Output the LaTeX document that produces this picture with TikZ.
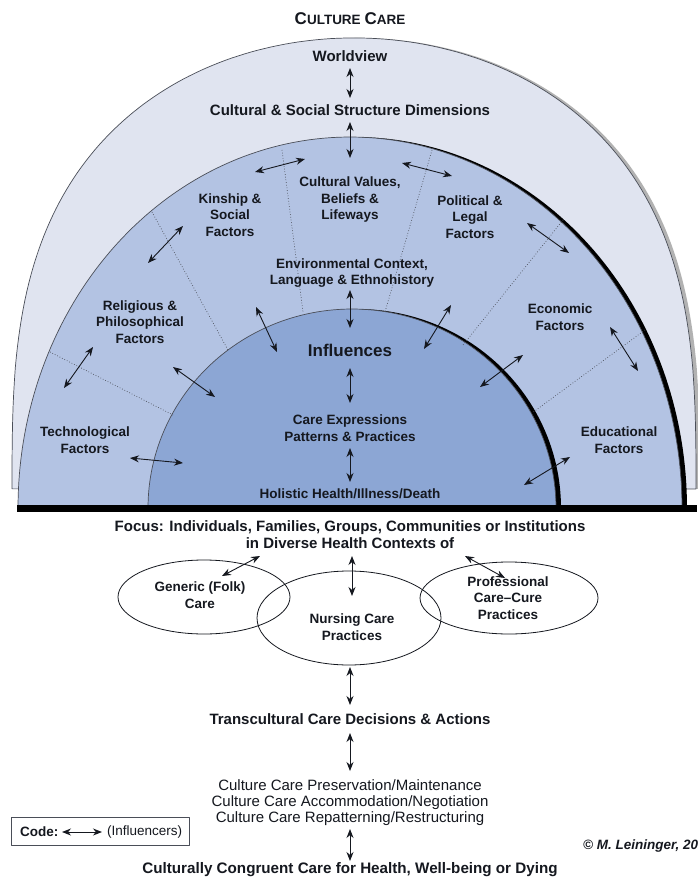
\documentclass[tikz,border=0pt]{standalone}
\usepackage{fontspec}
\setmainfont{Liberation Sans}
\usetikzlibrary{arrows.meta,shapes.geometric}
\definecolor{outerc}{HTML}{E0E4F0}
\definecolor{midc}{HTML}{B3C3E3}
\definecolor{innc}{HTML}{8CA6D4}
\definecolor{ink}{HTML}{15181F}
\definecolor{edge}{HTML}{4A4E58}
\begin{document}
\begin{tikzpicture}[x=1pt,y=-1pt,line join=round,
  lab/.style={align=center,inner sep=0pt,text=ink,font=\fontsize{13.5}{16.5}\selectfont\bfseries},
  big/.style={align=center,inner sep=0pt,text=ink,font=\fontsize{15}{17}\selectfont\bfseries},
  reg/.style={align=center,inner sep=0pt,text=ink,font=\fontsize{15}{16}\selectfont},
  arr/.style={{Stealth[length=9pt,width=7pt]}-{Stealth[length=9pt,width=7pt]},line width=0.9pt,draw=ink},
  sep/.style={dotted,line width=0.7pt,draw=edge},
  oval/.style={ellipse,draw=ink,line width=0.8pt,inner sep=0pt}]
\useasboundingbox (0,0) rectangle (697,877);
\fill[white] (0,0) rectangle (697,877);
% outer dome with shadow: (x/a)^2 + (y/b)^3 = 1
\fill[gray!60] plot[domain=0:180,samples=160] ({358+342*cos(\x)},{490-452*(abs(sin(\x))+0.0001)^0.6667}) -- cycle;
\filldraw[fill=outerc,draw=edge,line width=0.7pt] plot[domain=0:180,samples=160] ({354+342*cos(\x)},{490-452*(abs(sin(\x))+0.0001)^0.6667}) -- cycle;
% middle dome with shadow
\fill[black] plot[domain=0:180,samples=140] ({355+332*cos(\x)},{508-371*sin(\x)}) -- cycle;
\filldraw[fill=midc,draw=edge,line width=0.7pt] plot[domain=0:180,samples=140] ({350+332*cos(\x)},{508-371*sin(\x)}) -- cycle;
% inner dome with shadow
\fill[black] plot[domain=0:180,samples=120] ({357+204*cos(\x)},{508-199*sin(\x)}) -- cycle;
\filldraw[fill=innc,draw=edge,line width=0.7pt] plot[domain=0:180,samples=120] ({352+204*cos(\x)},{508-199*sin(\x)}) -- cycle;
% base bar
\fill[black] (17,505) rectangle (697,512);
% dotted separators
\draw[sep] (282,150) -- (303,312);
\draw[sep] (152,212) -- (228,350);
\draw[sep] (50,352) -- (173,415);
\draw[sep] (432,150) -- (385,312);
\draw[sep] (563,220) -- (463,345);
\draw[sep] (645,330) -- (532,413);
% texts
\node[align=center,inner sep=0pt,text=ink,font=\bfseries] (title) at (350,19) {\fontsize{17}{17}\selectfont C\fontsize{13.5}{13.5}\selectfont ULTURE \fontsize{17}{17}\selectfont C\fontsize{13.5}{13.5}\selectfont ARE};
\node[big] (wv) at (350,56) {Worldview};
\node[big] (csd) at (350,110) {Cultural \& Social Structure Dimensions};
\node[lab] (kin) at (230,215) {Kinship \&\\Social\\Factors};
\node[lab] (cvb) at (350,200) {Cultural Values,\\Beliefs \&\\Lifeways};
\node[lab] (pol) at (470,217) {Political \&\\Legal\\Factors};
\node[lab] (env) at (352,273) {Environmental Context,\\Language \& Ethnohistory};
\node[lab] (rel) at (140,322) {Religious \&\\Philosophical\\Factors};
\node[lab] (eco) at (560,317) {Economic\\Factors};
\node[lab] (tec) at (85,440) {Technological\\Factors};
\node[lab] (edu) at (619,440) {Educational\\Factors};
\node[align=center,inner sep=0pt,text=ink,font=\fontsize{17}{19}\selectfont\bfseries] (infl) at (350,350) {Influences};
\node[lab] (care) at (350,428) {Care Expressions\\Patterns \& Practices};
\node[lab] (hol) at (350,494) {Holistic Health/Illness/Death};
\node[big] (focus) at (350,535) {Focus: Individuals, Families, Groups, Communities or Institutions\\in Diverse Health Contexts of};
% ovals
\node[oval,minimum width=172pt,minimum height=74pt] (gen) at (204,597) {};
\node[oval,minimum width=184pt,minimum height=94pt] (nur) at (349,618) {};
\node[oval,minimum width=178pt,minimum height=72pt] (pro) at (509,598) {};
\node[lab] (gent) at (200,595) {Generic (Folk)\\Care};
\node[lab] (nurt) at (352,627) {Nursing Care\\Practices};
\node[lab] (prot) at (508,598) {Professional\\Care--Cure\\Practices};
\node[big] (tcd) at (350,719) {Transcultural Care Decisions \& Actions};
\node[reg] (ccp) at (350,803) {Culture Care Preservation/Maintenance\\Culture Care Accommodation/Negotiation\\Culture Care Repatterning/Restructuring};
\node[align=center,inner sep=0pt,text=ink,font=\fontsize{15.2}{17}\selectfont\bfseries] (ccc) at (350,870) {Culturally Congruent Care for Health, Well-being or Dying};
\node[draw=edge,line width=0.7pt,minimum width=178pt,minimum height=28pt,inner sep=0pt] (codebox) at (100,831) {};
\node[anchor=west,inner sep=0pt,text=ink,font=\fontsize{13.5}{15}\selectfont\bfseries] (codet) at (20,832) {Code:};
\node[anchor=west,inner sep=0pt,text=ink,font=\fontsize{13.5}{15}\selectfont] (infl2) at (107,832) {(Influencers)};
\node[anchor=west,inner sep=0pt,text=ink,font=\fontsize{13.5}{15}\selectfont\bfseries\itshape] (lein) at (583,846) {\textcopyright\ M. Leininger, 20};
% arrow end points
\coordinate (c1a) at (62,832); \coordinate (c1b) at (102,832);
\coordinate (v1a) at (350,68); \coordinate (v1b) at (350,98);
\coordinate (v2a) at (350,122); \coordinate (v2b) at (350,158);
\coordinate (v3a) at (350,290); \coordinate (v3b) at (350,328);
\coordinate (v4a) at (350,368); \coordinate (v4b) at (350,403);
\coordinate (v5a) at (350,448); \coordinate (v5b) at (350,482);
\coordinate (a1a) at (255,172); \coordinate (a1b) at (305,159);
\coordinate (a2a) at (402,163); \coordinate (a2b) at (452,176);
\coordinate (a3a) at (148,263); \coordinate (a3b) at (183,226);
\coordinate (a4a) at (256,307); \coordinate (a4b) at (277,352);
\coordinate (a5a) at (173,367); \coordinate (a5b) at (215,397);
\coordinate (a6a) at (64,388); \coordinate (a6b) at (93,347);
\coordinate (a7a) at (130,458); \coordinate (a7b) at (183,463);
\coordinate (a8a) at (527,223); \coordinate (a8b) at (569,253);
\coordinate (a9a) at (424,349); \coordinate (a9b) at (451,305);
\coordinate (a10a) at (480,387); \coordinate (a10b) at (523,355);
\coordinate (a11a) at (610,327); \coordinate (a11b) at (638,371);
\coordinate (a12a) at (524,485); \coordinate (a12b) at (570,457);
\coordinate (g1a) at (222,576); \coordinate (g1b) at (260,556);
\coordinate (g2a) at (352,556); \coordinate (g2b) at (352,596);
\coordinate (g3a) at (465,556); \coordinate (g3b) at (505,578);
\coordinate (l1a) at (350,667); \coordinate (l1b) at (350,705);
\coordinate (l2a) at (350,733); \coordinate (l2b) at (350,771);
\coordinate (l3a) at (350,829); \coordinate (l3b) at (350,861);
\foreach \p in {c1,v1,v2,v3,v4,v5,a1,a2,a3,a4,a5,a6,a7,a8,a9,a10,a11,a12,g1,g2,g3,l1,l2,l3}
  \draw[arr] (\p a) -- (\p b);
\end{tikzpicture}
\end{document}
